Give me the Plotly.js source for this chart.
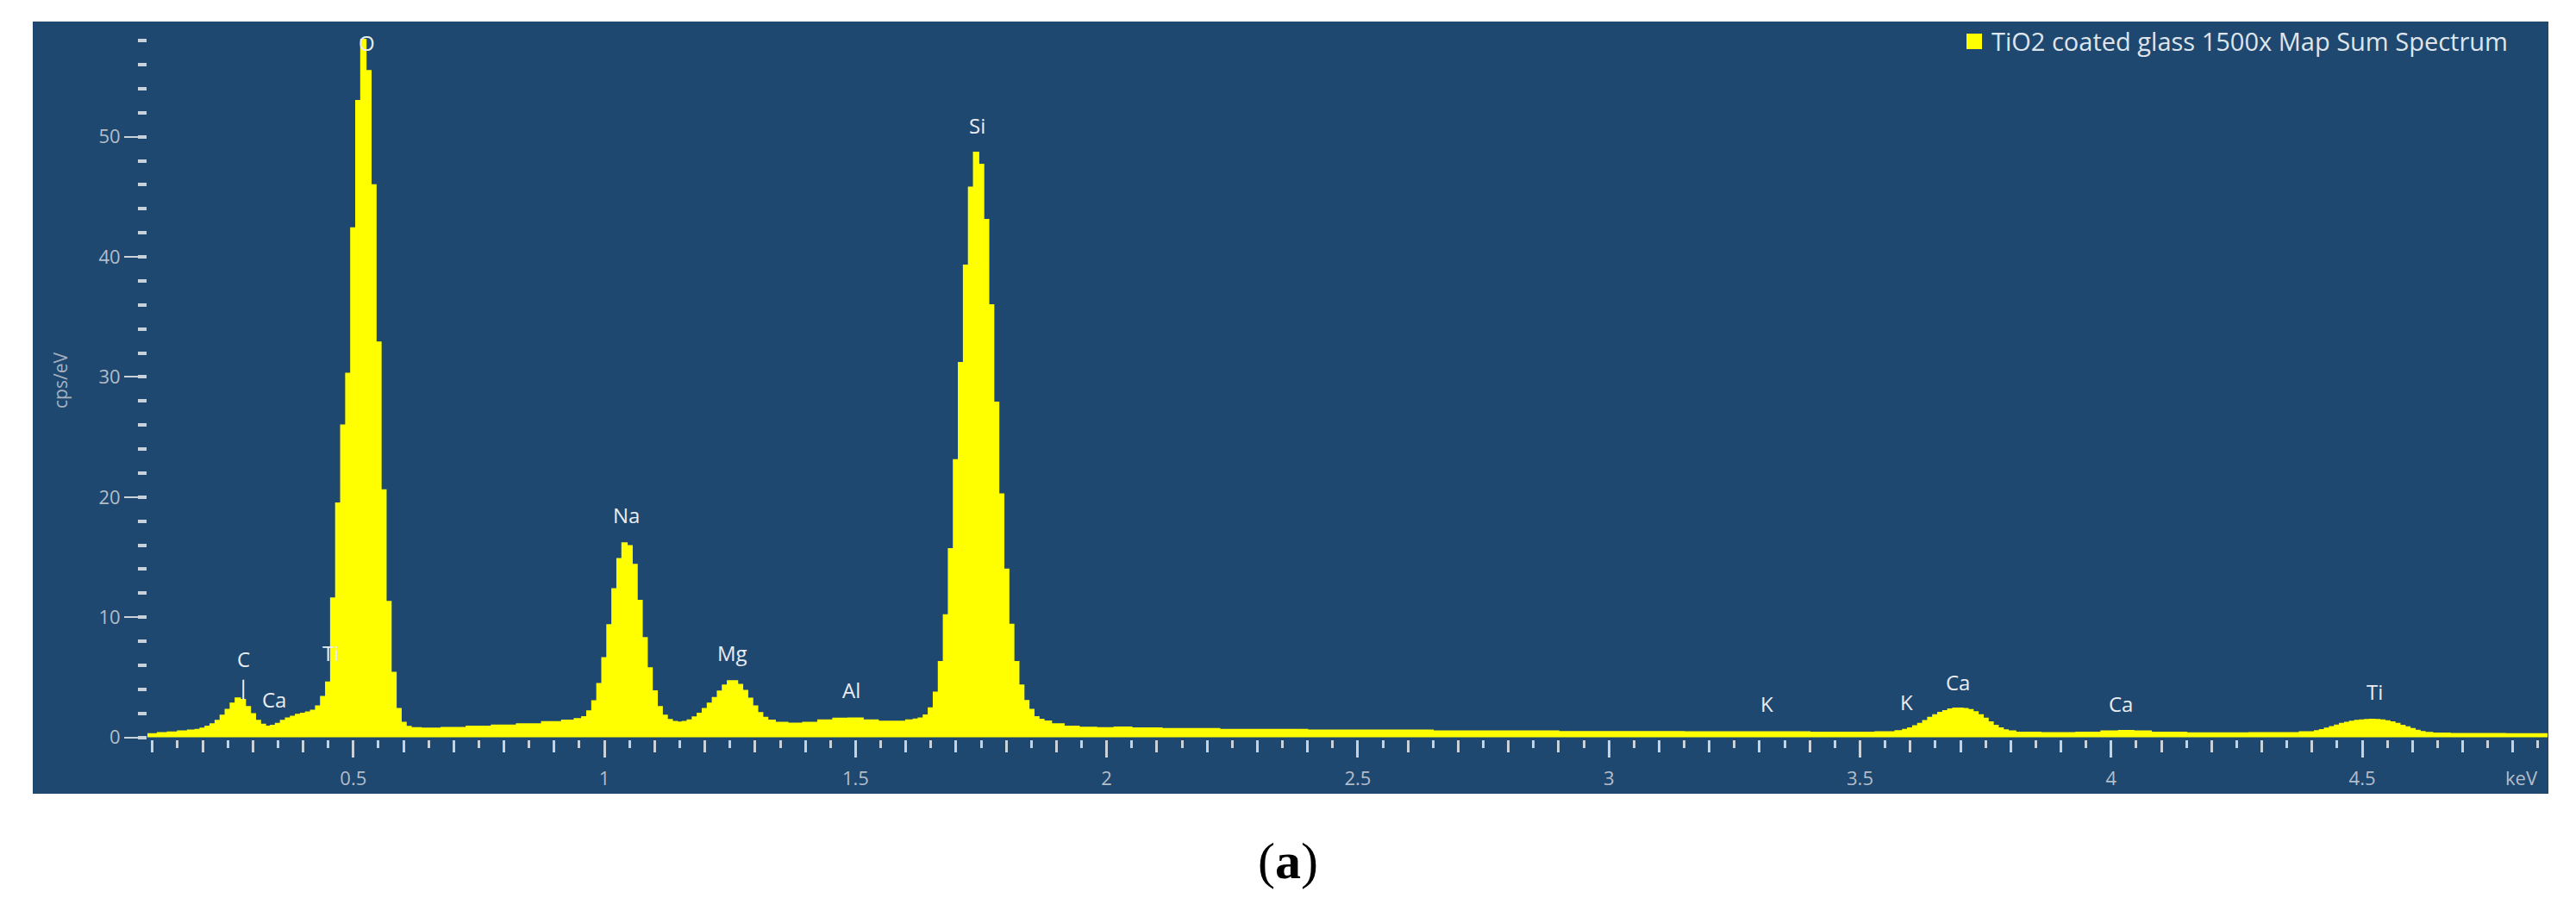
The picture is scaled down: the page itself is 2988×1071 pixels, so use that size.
<!DOCTYPE html>
<html>
<head>
<meta charset="utf-8">
<script src="https://cdn.plot.ly/plotly-3.0.1.min.js"></script>
<style>
  html, body { margin: 0; padding: 0; background: #ffffff; }
  #chart { width: 2988px; height: 1071px; }
</style>
</head>
<body>
<div id="chart"></div>
<script>
// ---------------- DATA ----------------
const seriesName = 'TiO2 coated glass 1500x Map Sum Spectrum';

// Energy channel (keV)
const energyKeV = [
  0.09, 0.10, 0.12, 0.14, 0.16, 0.18, 0.19,
  0.20, 0.21, 0.22, 0.23, 0.24, 0.25, 0.26, 0.27, 0.28, 0.29,
  0.30, 0.31, 0.32, 0.33, 0.34, 0.35, 0.36, 0.37, 0.38, 0.39,
  0.40, 0.41, 0.42, 0.43, 0.44, 0.45, 0.46, 0.47, 0.48, 0.49,
  0.50, 0.51, 0.52, 0.53, 0.54, 0.55, 0.56, 0.57, 0.58, 0.59,
  0.60, 0.61, 0.62, 0.65, 0.70, 0.75, 0.80, 0.85, 0.90, 0.93, 0.95,
  0.96, 0.97, 0.98, 0.99, 1.00, 1.01, 1.02, 1.03, 1.04, 1.05,
  1.06, 1.07, 1.08, 1.09, 1.10, 1.11, 1.12, 1.13, 1.14, 1.15,
  1.16, 1.17, 1.18, 1.19, 1.20, 1.21, 1.22, 1.23, 1.24, 1.25,
  1.26, 1.27, 1.28, 1.29, 1.30, 1.31, 1.32, 1.33, 1.35, 1.38,
  1.41, 1.44, 1.47, 1.50, 1.53, 1.56, 1.59, 1.61, 1.62, 1.63,
  1.64, 1.65, 1.66, 1.67, 1.68, 1.69, 1.70, 1.71, 1.72, 1.73,
  1.74, 1.75, 1.76, 1.77, 1.78, 1.79, 1.80, 1.81, 1.82, 1.83,
  1.84, 1.85, 1.86, 1.87, 1.88, 1.90, 1.93, 1.96, 2.00, 2.03,
  2.07, 2.15, 2.30, 2.50, 2.80, 3.00, 3.30, 3.50, 3.56, 3.58,
  3.59, 3.60, 3.61, 3.62, 3.63, 3.64, 3.65, 3.66, 3.67, 3.68,
  3.69, 3.70, 3.71, 3.72, 3.73, 3.74, 3.75, 3.76, 3.77, 3.78,
  3.79, 3.80, 3.82, 3.90, 3.96, 4.00, 4.03, 4.06, 4.10, 4.20,
  4.35, 4.40, 4.41, 4.42, 4.43, 4.44, 4.45, 4.46, 4.47, 4.48,
  4.49, 4.50, 4.51, 4.52, 4.53, 4.54, 4.55, 4.56, 4.57, 4.58,
  4.59, 4.60, 4.61, 4.62, 4.63, 4.65, 4.70, 4.87
];

// Counts (cps/eV)
const countsPerEV = [
  0.30, 0.30, 0.38, 0.44, 0.52, 0.60, 0.66,
  0.76, 0.93, 1.12, 1.40, 1.84, 2.33, 2.85, 3.27, 3.15, 2.55,
  1.96, 1.40, 1.08, 0.93, 1.00, 1.15, 1.40, 1.60, 1.75, 1.90,
  2.00, 2.10, 2.25, 2.60, 3.40, 4.60, 11.6, 19.5, 26.0, 30.3,
  42.4, 53.0, 58.1, 55.5, 46.0, 32.9, 20.6, 11.3, 5.40, 2.40,
  1.25, 0.90, 0.80, 0.76, 0.82, 0.92, 1.02, 1.12, 1.30, 1.42, 1.55,
  1.72, 2.20, 3.03, 4.47, 6.62, 9.37, 12.36, 14.87, 16.18, 15.95,
  14.40, 11.40, 8.30, 5.78, 3.87, 2.55, 1.84, 1.48, 1.31, 1.26,
  1.32, 1.45, 1.70, 2.00, 2.40, 2.85, 3.30, 3.85, 4.35, 4.70,
  4.70, 4.40, 3.90, 3.25, 2.60, 2.05, 1.65, 1.42, 1.25, 1.17,
  1.25, 1.45, 1.58, 1.60, 1.45, 1.33, 1.34, 1.45, 1.52, 1.60,
  1.85, 2.45, 3.75, 6.30, 10.2, 15.7, 23.1, 31.2, 39.3, 45.8,
  48.7, 47.7, 43.1, 36.0, 27.9, 20.25, 14.0, 9.40, 6.30, 4.35,
  3.05, 2.32, 1.72, 1.50, 1.36, 1.12, 0.93, 0.84, 0.80, 0.85,
  0.78, 0.72, 0.66, 0.60, 0.52, 0.48, 0.45, 0.42, 0.46, 0.55,
  0.65, 0.78, 0.95, 1.15, 1.38, 1.65, 1.88, 2.07, 2.22, 2.35,
  2.42, 2.43, 2.40, 2.31, 2.12, 1.88, 1.58, 1.28, 1.00, 0.78,
  0.62, 0.52, 0.42, 0.38, 0.42, 0.52, 0.57, 0.52, 0.42, 0.36,
  0.38, 0.45, 0.54, 0.64, 0.76, 0.88, 1.02, 1.15, 1.25, 1.33,
  1.40, 1.45, 1.48, 1.49, 1.48, 1.44, 1.37, 1.28, 1.15, 1.00,
  0.86, 0.72, 0.58, 0.47, 0.40, 0.34, 0.32, 0.30
];

// Element line labels (text, energy keV, height cps/eV)
const peakLabelText = ['C', 'Ca', 'Ti', 'O', 'Na', 'Mg', 'Al', 'Si', 'K', 'K', 'Ca', 'Ca', 'Ti'];
const peakLabelKeV  = [0.279, 0.342, 0.454, 0.527, 1.044, 1.255, 1.491, 1.743, 3.315, 3.592, 3.695, 4.019, 4.524];
const peakLabelCps  = [6.5, 3.17, 7.07, 57.8, 18.5, 7.07, 3.92, 50.97, 2.84, 2.98, 4.63, 2.77, 3.78];
// the C label carries a marker line down to its peak
const markerLineKeV = 0.281;
const markerLineTop = 3.15;

const xTitle = 'keV';
const yTitle = 'cps/eV';
const captionText = '(<b>a</b>)';

// ---------------- LAYOUT GEOMETRY ----------------
const W = 2988, H = 1071;
const L = 171, R = 2955, T = 25, B = 858;
const xRange = [0.090, 4.869];
const yRange = [-0.172, 59.59];
const px2pxX = (px) => (px - L) / (R - L);
const px2pY  = (py) => (B - py) / (B - T);

const panelColor = '#1f4870';
const tickColor = '#c9d1db';
const tickLabelColor = '#b3bdc9';
const labelColor = '#e9edf2';
const fontFamily = '"Open Sans", "Noto Sans", sans-serif';

const spectrum = {
  type: 'scatter',
  mode: 'lines',
  x: energyKeV,
  y: countsPerEV,
  name: seriesName,
  fill: 'tozeroy',
  fillcolor: '#ffff00',
  line: { color: '#ffff00', width: 1.5, shape: 'hvh' },
  showlegend: false,
  hoverinfo: 'skip',
  xaxis: 'x',
  yaxis: 'y'
};
// empty trace only so that the overlay tick axes (x2 / y2) get drawn
const tickCarrier = {
  type: 'scatter', mode: 'lines', x: [], y: [],
  xaxis: 'x2', yaxis: 'y2', showlegend: false, hoverinfo: 'skip'
};

const annotations = [];
peakLabelText.forEach((t, i) => {
  if (i === 0) {
    annotations.push({
      x: markerLineKeV, y: markerLineTop, xref: 'x', yref: 'y',
      text: t, showarrow: true, arrowhead: 0, arrowwidth: 2, arrowcolor: labelColor,
      ax: 0, ay: -47, startstandoff: 6,
      font: { family: fontFamily, size: 24, color: labelColor }
    });
  } else {
    annotations.push({
      x: peakLabelKeV[i], y: peakLabelCps[i], xref: 'x', yref: 'y',
      text: t, showarrow: false, xanchor: 'center', yanchor: 'middle',
      font: { family: fontFamily, size: 24, color: labelColor }
    });
  }
});
// legend text
annotations.push({
  x: px2pxX(2308), y: px2pY(48), xref: 'paper', yref: 'paper',
  text: seriesName, showarrow: false, xanchor: 'left', yanchor: 'middle',
  font: { family: fontFamily, size: 29, color: '#dfe5ec' }
});
// x unit label
annotations.push({
  x: px2pxX(2925), y: px2pY(902), xref: 'paper', yref: 'paper',
  text: xTitle, showarrow: false, xanchor: 'center', yanchor: 'middle',
  font: { family: fontFamily, size: 22, color: tickLabelColor }
});
// caption
annotations.push({
  x: px2pxX(1494), y: px2pY(999), xref: 'paper', yref: 'paper',
  text: captionText, showarrow: false, xanchor: 'center', yanchor: 'middle',
  font: { family: '"Liberation Serif", "Times New Roman", serif', size: 60, color: '#000000' }
});

const shapes = [
  { type: 'rect', xref: 'paper', yref: 'paper', layer: 'below',
    x0: px2pxX(38), x1: px2pxX(2956), y0: px2pY(921), y1: px2pY(25),
    fillcolor: panelColor, line: { width: 0 } },
  { type: 'rect', xref: 'paper', yref: 'paper', layer: 'above',
    x0: px2pxX(2281), x1: px2pxX(2299), y0: px2pY(57), y1: px2pY(39),
    fillcolor: '#ffff00', line: { width: 0 } }
];

const layout = {
  width: W, height: H,
  paper_bgcolor: '#ffffff',
  plot_bgcolor: panelColor,
  margin: { l: L, r: W - R, t: T, b: H - B, pad: 0 },
  showlegend: false,
  font: { family: fontFamily, color: tickLabelColor },
  xaxis: {
    range: xRange, tickmode: 'linear', tick0: 0, dtick: 0.5,
    ticks: 'outside', ticklen: 20, tickwidth: 3, tickcolor: tickColor,
    tickfont: { family: fontFamily, size: 22, color: tickLabelColor },
    ticklabelstandoff: 6,
    minor: { tickmode: 'linear', tick0: 0, dtick: 0.05, ticks: 'outside', ticklen: 9, tickwidth: 3, tickcolor: tickColor, showgrid: false },
    showgrid: false, zeroline: false, showline: false, fixedrange: true
  },
  xaxis2: {
    overlaying: 'x', anchor: 'y', side: 'bottom', range: xRange,
    tickmode: 'linear', tick0: 0, dtick: 0.1,
    ticks: 'outside', ticklen: 14, tickwidth: 3, tickcolor: tickColor,
    showticklabels: false, showgrid: false, zeroline: false, showline: false, fixedrange: true
  },
  yaxis: {
    range: yRange, tickmode: 'linear', tick0: 0, dtick: 10,
    ticks: 'outside', ticklen: 26, tickwidth: 2, tickcolor: tickColor,
    tickfont: { family: fontFamily, size: 22, color: tickLabelColor },
    showgrid: false, zeroline: false, showline: false, fixedrange: true,
    title: { text: yTitle, font: { family: fontFamily, size: 21, color: '#a6b1bf' }, standoff: 30 }
  },
  yaxis2: {
    overlaying: 'y', anchor: 'x', side: 'left', range: yRange,
    tickmode: 'linear', tick0: 0, dtick: 2,
    ticks: 'outside', ticklen: 10, tickwidth: 4, tickcolor: tickColor,
    showticklabels: false, showgrid: false, zeroline: false, showline: false, fixedrange: true
  },
  annotations: annotations,
  shapes: shapes
};

Plotly.newPlot('chart', [spectrum, tickCarrier], layout, { displayModeBar: false, staticPlot: true });
</script>
</body>
</html>
